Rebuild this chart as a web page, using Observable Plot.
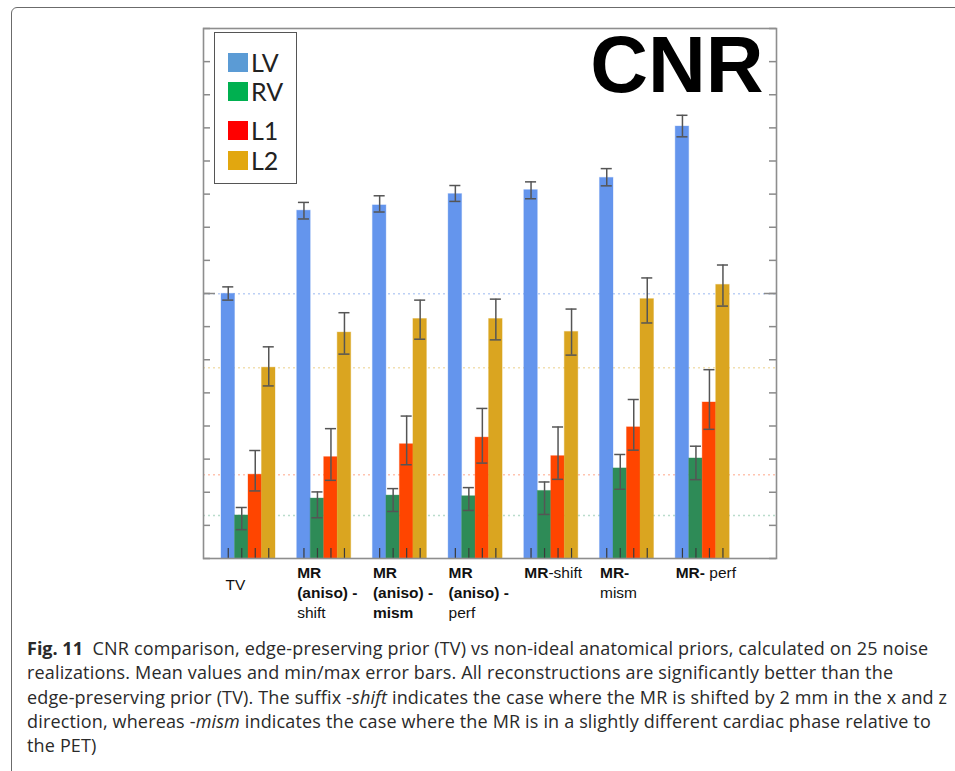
<!DOCTYPE html>
<html><head><meta charset="utf-8">
<script src="https://cdn.jsdelivr.net/npm/d3@7"></script>
<script src="https://cdn.jsdelivr.net/npm/@observablehq/plot@0.6"></script>
<style>
body{margin:0;background:#fff;width:955px;height:771px;overflow:hidden;position:relative;}
#border{position:absolute;left:11px;top:7px;width:1100px;height:900px;border:1px solid #6b6b6b;border-radius:6px;}
#chart{position:absolute;left:0;top:0;}
#legend{position:absolute;left:214px;top:32px;width:81px;height:150px;border:1.5px solid #555;background:#fff;font-family:Lato,sans-serif;}
.li{position:absolute;left:13px;height:20px;display:flex;align-items:center;}
.sw{width:20px;height:19px;margin-right:3px;}
.lt{font-size:25px;color:#222;line-height:20px;}
#caption{position:absolute;left:27px;top:636px;font-family:"Open Sans",sans-serif;font-size:18px;line-height:24.3px;color:#2a2a2a;white-space:nowrap;letter-spacing:0.16px;}
#caption b{font-weight:700;letter-spacing:0;}
</style></head>
<body>
<div id="border"></div>
<div id="chart"></div>
<div id="legend"></div>
<div id="caption"><b>Fig. 11</b>&nbsp; CNR comparison, edge-preserving prior (TV) vs non-ideal anatomical priors, calculated on 25 noise<br>realizations. Mean values and min/max error bars. All reconstructions are significantly better than the<br>edge-preserving prior (TV). The suffix -<i>shift</i> indicates the case where the MR is shifted by 2 mm in the x and z<br>direction, whereas -<i>mism</i> indicates the case where the MR is in a slightly different cardiac phase relative to<br>the PET)</div>
<script>
const groups = ["TV","MR (aniso) - shift","MR (aniso) - mism","MR (aniso) - perf","MR-shift","MR-mism","MR-perf"];
const series = ["LV","RV","L1","L2"];
const barColors = ["#6495ED","#2E8B57","#FF4500","#DAA520"];
const legendColors = ["#5B9BD5","#00B050","#FF0000","#E2A70F"];
const refColors = ["#bcd0f5","#b9dccb","#ffc4b0","#f2e0b0"];

const LV_mean = [7.99,10.50,10.66,11.00,11.12,11.49,13.04];
const LV_min  = [7.80,10.25,10.46,10.78,10.86,11.25,12.73];
const LV_max  = [8.20,10.75,10.95,11.26,11.37,11.77,13.38];
const RV_mean = [1.30,1.81,1.90,1.88,2.04,2.72,3.02];
const RV_min  = [0.87,1.23,1.42,1.45,1.33,2.09,2.38];
const RV_max  = [1.54,2.01,2.11,2.14,2.31,3.14,3.39];
const L1_mean = [2.53,3.06,3.45,3.65,3.09,3.96,4.71];
const L1_min  = [2.04,2.36,2.83,2.88,2.39,3.27,3.90];
const L1_max  = [3.26,3.92,4.30,4.53,3.97,4.80,5.70];
const L2_mean = [5.76,6.82,7.23,7.23,6.84,7.83,8.26];
const L2_min  = [5.21,6.17,6.62,6.60,6.14,7.11,7.62];
const L2_max  = [6.39,7.42,7.80,7.83,7.53,8.47,8.86];

const yTicks = d3.range(0,17,1);
const yMajor = [8];

// x-axis label lines: [group index, line number, [[text, bold], ...]]
const labelLines = [
  [0,0,[["TV",false]]],
  [1,0,[["MR",true]]],[1,1,[["(aniso) -",true]]],[1,2,[["shift",false]]],
  [2,0,[["MR",true]]],[2,1,[["(aniso) -",true]]],[2,2,[["mism",true]]],
  [3,0,[["MR",true]]],[3,1,[["(aniso) -",true]]],[3,2,[["perf",false]]],
  [4,0,[["MR",true],["-shift",false]]],
  [5,0,[["MR-",true]]],[5,1,[["mism",false]]],
  [6,0,[["MR-",true],[" perf",false]]]
];

const means = [LV_mean,RV_mean,L1_mean,L2_mean];
const mins = [LV_min,RV_min,L1_min,L2_min];
const maxs = [LV_max,RV_max,L1_max,L2_max];

const groupW = 0.7134, barW = groupW/4, capHalf = 0.073;
const rows = [];
groups.forEach((g,gi)=>{
  series.forEach((s,si)=>{
    const x1 = gi + 1 - groupW/2 + si*barW;
    rows.push({g, s, si, x1, x2: x1+barW, xc: x1+barW/2, v: means[si][gi], lo: mins[si][gi], hi: maxs[si][gi]});
  });
});
const refs = series.map((s,si)=>({s, si, v: means[si][0]}));
const labels = labelLines.map(([gi,line,parts])=>({gi, line, parts, x: gi + 1 - groupW/2, text: parts.map(p=>p[0]).join("")}));
const labelSets = [
  {cls: "xlabtv", data: labels.filter(d=>d.gi===0), dy: 27, dx: 4},
  {cls: "xlab0", data: labels.filter(d=>d.gi!==0 && d.line===0), dy: 15, dx: 0},
  {cls: "xlab1", data: labels.filter(d=>d.gi!==0 && d.line===1), dy: 35, dx: 0},
  {cls: "xlab2", data: labels.filter(d=>d.gi!==0 && d.line===2), dy: 55, dx: 0}
];

const W = 955, H = 625;
const chart = Plot.plot({
  width: W, height: H,
  marginLeft: 203, marginRight: 179, marginTop: 28, marginBottom: 67,
  style: {background: "transparent", overflow: "visible"},
  x: {domain: [0.4055, 7.975], axis: null},
  y: {domain: [0, 16], axis: null},
  marks: [
    Plot.ruleY(refs, {y: "v", stroke: d=>refColors[d.si], strokeWidth: 1.5, strokeDasharray: "2,3"}),
    Plot.rect(rows, {x1: "x1", x2: "x2", y1: 0, y2: "v", fill: d=>barColors[d.si], stroke: d=>barColors[d.si], strokeOpacity: 0.35, strokeWidth: 1}),
    Plot.ruleX(rows, {x: "xc", y1: 0, y2: 0.3, stroke: "#3a3a3a", strokeWidth: 1.2}),
    Plot.ruleX(rows, {x: "xc", y1: "lo", y2: "hi", stroke: "#555", strokeWidth: 1.5}),
    Plot.ruleY(rows, {y: "hi", x1: d=>d.xc-capHalf, x2: d=>d.xc+capHalf, stroke: "#555", strokeWidth: 1.5}),
    Plot.ruleY(rows, {y: "lo", x1: d=>d.xc-capHalf, x2: d=>d.xc+capHalf, stroke: "#555", strokeWidth: 1.5}),
    Plot.ruleY(yTicks, {y: d=>d, insetRight: 566, stroke: "#8a8a8a", strokeWidth: 1.5}),
    Plot.ruleY(yTicks, {y: d=>d, insetLeft: 566, stroke: "#8a8a8a", strokeWidth: 1.5}),
    Plot.ruleY(yMajor, {y: d=>d, insetRight: 561, stroke: "#8a8a8a", strokeWidth: 1.5}),
    Plot.ruleY(yMajor, {y: d=>d, insetLeft: 561, stroke: "#8a8a8a", strokeWidth: 1.5}),
    Plot.frame({stroke: "#8e8e8e", strokeWidth: 1.6}),
    Plot.text(["CNR"], {frameAnchor: "top-right", text: d=>d, dx: -13, dy: 7, lineAnchor: "top", textAnchor: "end", fontSize: 80, fontWeight: "bold", fontFamily: "Liberation Sans, Arial, sans-serif", fill: "#000"}),
    ...labelSets.map(ls => Plot.text(ls.data, {x: "x", y: 0, text: "text", textAnchor: "start", lineAnchor: "middle",
      dy: ls.dy, dx: ls.dx, fontSize: 15.5, fontFamily: "Liberation Sans, Arial, sans-serif", fill: "#111", className: ls.cls}))
  ]
});
document.getElementById("chart").appendChild(chart);

// apply mixed bold/normal styling to label parts
labelSets.forEach(ls=>{
  const texts = chart.querySelectorAll("." + ls.cls + " text");
  texts.forEach((t,i)=>{
    const d = ls.data[i];
    if (!d) return;
    t.textContent = "";
    d.parts.forEach(([txt,bold])=>{
      const ts = document.createElementNS("http://www.w3.org/2000/svg","tspan");
      ts.setAttribute("font-weight", bold ? "bold" : "normal");
      ts.style.whiteSpace = "pre";
      ts.textContent = txt;
      t.appendChild(ts);
    });
  });
});

// legend
const legend = document.getElementById("legend");
const legendTops = [19, 48, 87, 117];
series.forEach((s,i)=>{
  const it = document.createElement("div");
  it.className = "li";
  it.style.top = legendTops[i] + "px";
  it.innerHTML = `<div class="sw" style="background:${legendColors[i]}"></div><span class="lt">${s}</span>`;
  legend.appendChild(it);
});
</script>
</body></html>
